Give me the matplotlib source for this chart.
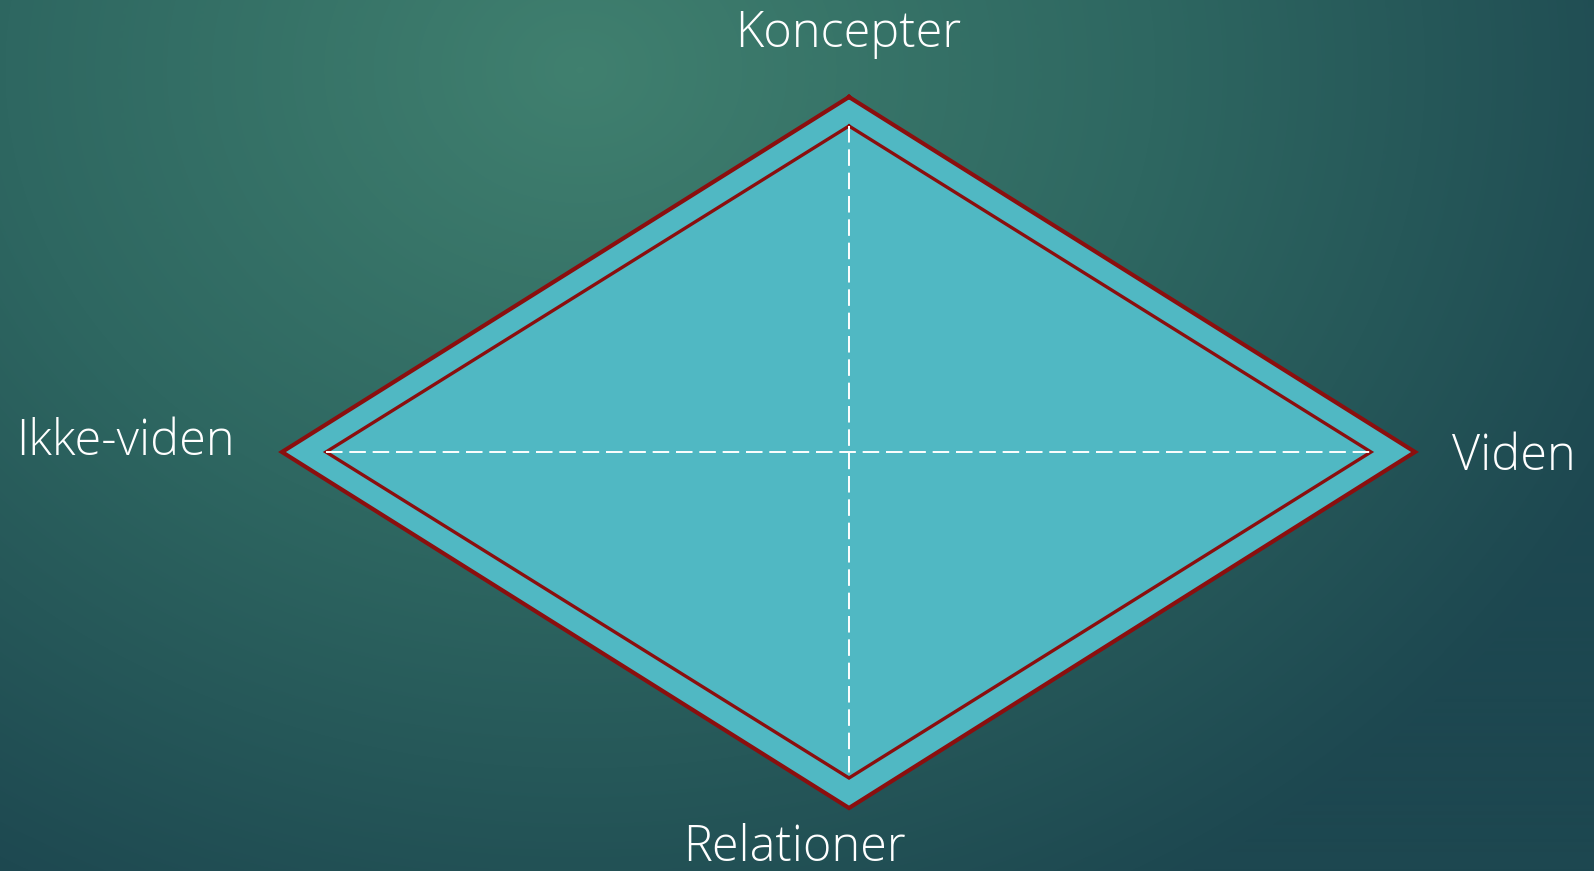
import numpy as np
import matplotlib.pyplot as plt
from matplotlib.colors import LinearSegmentedColormap

# corner labels: top, right, bottom, left
labels = ["Koncepter", "Viden", "Relationer", "Ikke-viden"]

# diamond vertices in pixel units (x right, y down): top, right, bottom, left
outer_x = [849, 1415, 849, 282]
outer_y = [97, 452, 808, 452]
inner_x = [849, 1371, 849, 326]
inner_y = [126, 452, 778, 452]

W, H = 1594, 871
fig = plt.figure(figsize=(W / 100, H / 100), dpi=100)
ax = fig.add_axes([0, 0, 1, 1])
ax.set_xlim(0, W)
ax.set_ylim(H, 0)
ax.axis("off")

# background: soft radial gradient, lighter near top-centre
yy, xx = np.mgrid[0:H, 0:W]
d = np.sqrt(((xx - 580) / 1150.0) ** 2 + ((yy - 70) / 950.0) ** 2)
d = np.clip(d, 0, 1)
bg_cmap = LinearSegmentedColormap.from_list("bg", ["#40806f", "#2e6761", "#1d4750"])
ax.imshow(d, cmap=bg_cmap, extent=[0, W, H, 0], aspect="auto", zorder=0)

red = "#8b0e0e"
fill = "#50b8c3"
ax.fill(outer_x, outer_y, color=fill, zorder=1)
ax.plot(outer_x + outer_x[:1], outer_y + outer_y[:1], color=red, lw=3.0,
        solid_joinstyle="miter", zorder=2)
ax.plot(inner_x + inner_x[:1], inner_y + inner_y[:1], color=red, lw=2.4,
        solid_joinstyle="miter", zorder=2)

# dashed axes inside the inner diamond
ax.plot([inner_x[3], inner_x[1]], [inner_y[3], inner_y[1]], color="white",
        lw=1.4, dashes=(8.5, 3.5), zorder=3)
ax.plot([inner_x[0], inner_x[2]], [inner_y[0], inner_y[2]], color="white",
        lw=1.4, dashes=(8.5, 3.5), zorder=3)

font = dict(family="Open Sans", fontweight="light", color="white", fontsize=35)
ax.text(848, 47, labels[0], ha="center", va="baseline", **font)
ax.text(1452, 470, labels[1], ha="left", va="baseline", **font)
ax.text(795, 861, labels[2], ha="center", va="baseline", **font)
ax.text(16, 455, labels[3], ha="left", va="baseline", **font)

fig.savefig("out.png", dpi=100)
